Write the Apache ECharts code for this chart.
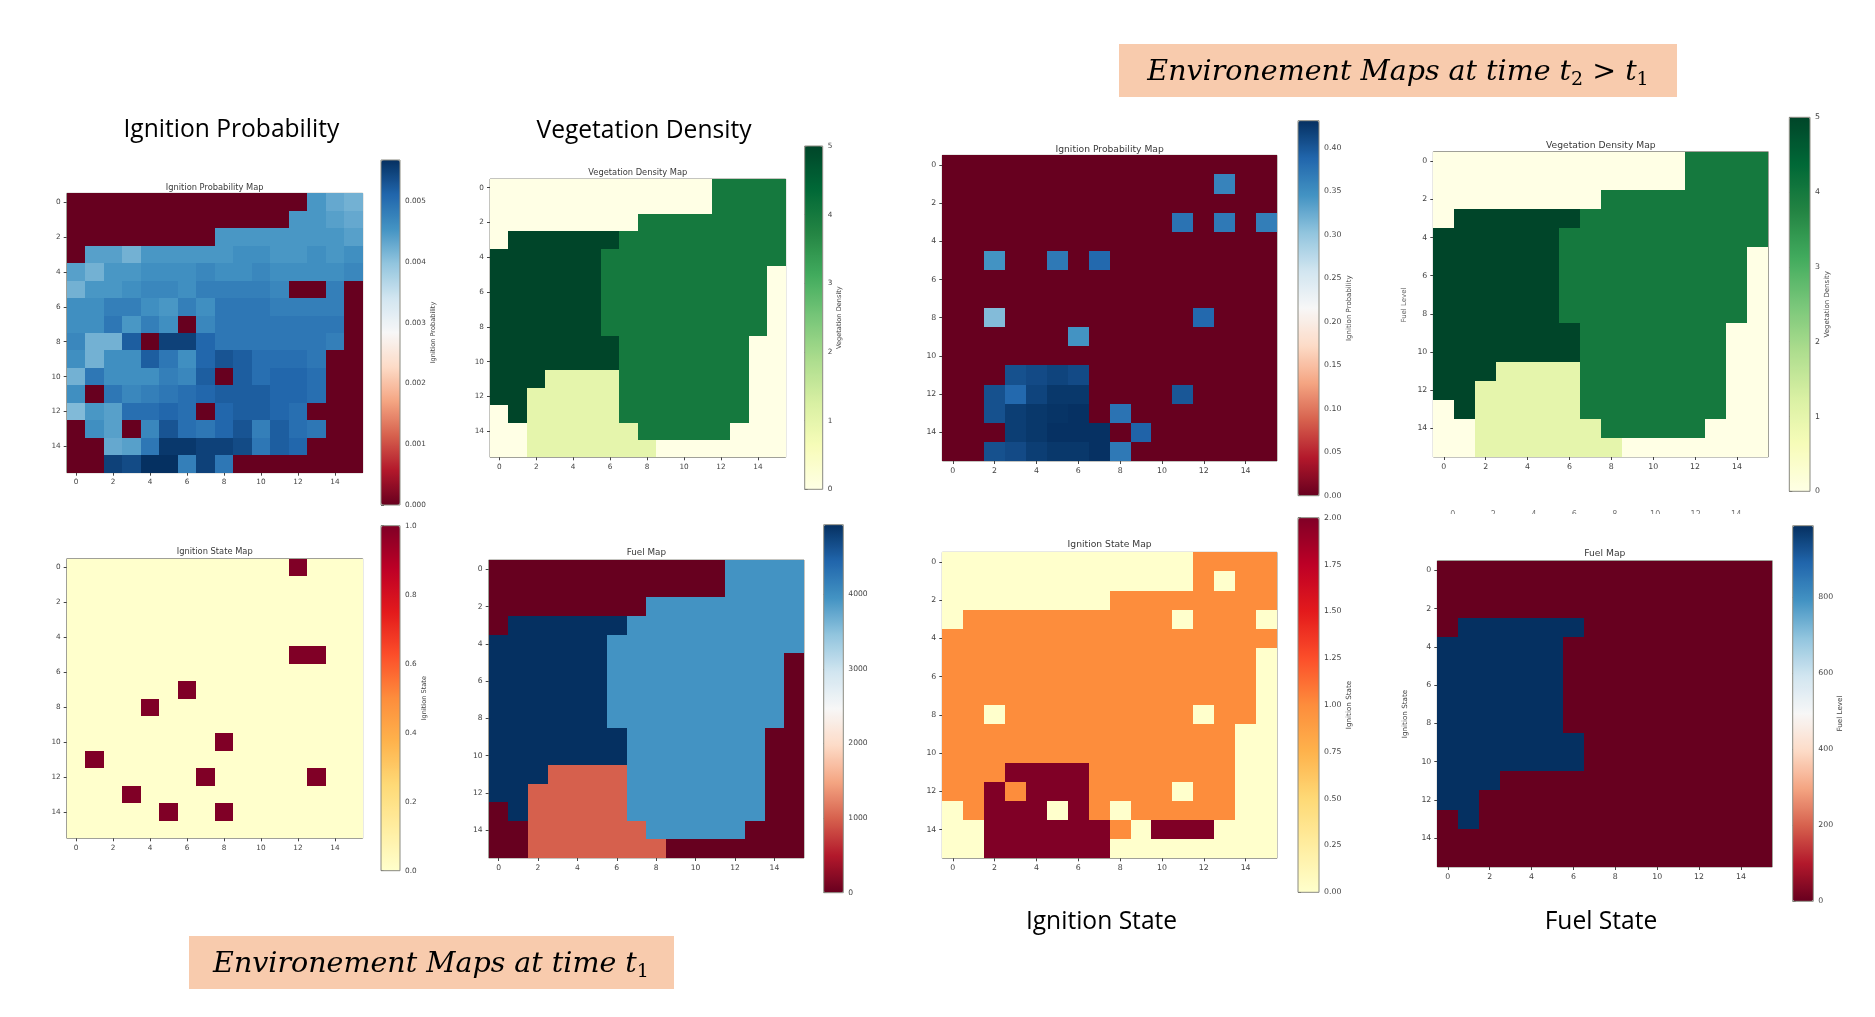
<!DOCTYPE html>
<html>
<head>
<meta charset="utf-8">
<title>Environement Maps</title>
<script src="https://cdn.jsdelivr.net/npm/echarts@6/dist/echarts.min.js"></script>
<style>
html, body { margin:0; padding:0; background:#fff; }
#main { width:1875px; height:1017px; }
</style>
</head>
<body>
<div id="main"></div>
<script>
// grid labels, both axes
var cellLabels = ["0","1","2","3","4","5","6","7","8","9","10","11","12","13","14","15"];

// maps at time t1 (row by row, from the top)
var probT1 = [
	[0,0,0,0,0,0,0,0,0,0,0,0,0,.0045,.0043,.0042],
	[0,0,0,0,0,0,0,0,0,0,0,0,.0045,.0045,.0044,.0043],
	[0,0,0,0,0,0,0,0,.0045,.0045,.0045,.0045,.0045,.0045,.0045,.0044],
	[0,.0044,.0044,.0042,.0045,.0045,.0045,.0045,.0045,.0046,.0046,.0045,.0045,.0046,.0045,.0046],
	[.0044,.0042,.0045,.0045,.0046,.0046,.0046,.0047,.0046,.0046,.0047,.0046,.0046,.0046,.0046,.0047],
	[.0042,.0045,.0045,.0046,.0047,.0047,.0046,.0048,.0048,.0048,.0048,.0047,0,0,.0048,0],
	[.0046,.0046,.0048,.0048,.0046,.0045,.0048,.0046,.0049,.0049,.0049,.0048,.0048,.0048,.0048,0],
	[.0046,.0046,.0049,.0045,.0048,.0046,0,.0047,.0049,.0049,.0049,.0049,.0049,.0049,.0049,0],
	[.0047,.0042,.0042,.0052,0,.0055,.0055,.0051,.0049,.0049,.0049,.0049,.0049,.0049,.0048,0],
	[.0046,.0042,.0046,.0046,.0052,.0049,.0046,.0051,.0053,.0052,.005,.005,.005,.0049,0,0],
	[.0042,.0049,.0046,.0046,.0046,.0048,.0047,.0052,0,.0052,.005,.0051,.0051,.005,0,0],
	[.0046,0,.0049,.0047,.0048,.0049,.005,.0051,.0052,.0052,.0052,.0051,.0051,.005,0,0],
	[.0041,.0045,.0044,.005,.005,.0051,.005,0,.0051,.0052,.0052,.0051,.005,0,0,0],
	[0,.0046,.0044,0,.0047,.0053,.005,.0049,.0051,.0053,.0048,.0052,.005,.0049,0,0],
	[0,0,.0043,.0044,.0049,.0056,.0056,.0055,.0055,.0054,.0049,.0052,.0051,0,0,0],
	[0,0,.0055,.0054,.0057,.0057,.0048,.0055,.0049,0,0,0,0,0,0,0]
];
var vegT1 = [
	[0,0,0,0,0,0,0,0,0,0,0,0,4,4,4,4],
	[0,0,0,0,0,0,0,0,0,0,0,0,4,4,4,4],
	[0,0,0,0,0,0,0,0,4,4,4,4,4,4,4,4],
	[0,5,5,5,5,5,5,4,4,4,4,4,4,4,4,4],
	[5,5,5,5,5,5,4,4,4,4,4,4,4,4,4,4],
	[5,5,5,5,5,5,4,4,4,4,4,4,4,4,4,0],
	[5,5,5,5,5,5,4,4,4,4,4,4,4,4,4,0],
	[5,5,5,5,5,5,4,4,4,4,4,4,4,4,4,0],
	[5,5,5,5,5,5,4,4,4,4,4,4,4,4,4,0],
	[5,5,5,5,5,5,5,4,4,4,4,4,4,4,0,0],
	[5,5,5,5,5,5,5,4,4,4,4,4,4,4,0,0],
	[5,5,5,1,1,1,1,4,4,4,4,4,4,4,0,0],
	[5,5,1,1,1,1,1,4,4,4,4,4,4,4,0,0],
	[0,5,1,1,1,1,1,4,4,4,4,4,4,4,0,0],
	[0,0,1,1,1,1,1,1,4,4,4,4,4,0,0,0],
	[0,0,1,1,1,1,1,1,1,0,0,0,0,0,0,0]
];
var stateT1 = [
	[0,0,0,0,0,0,0,0,0,0,0,0,1,0,0,0],
	[0,0,0,0,0,0,0,0,0,0,0,0,0,0,0,0],
	[0,0,0,0,0,0,0,0,0,0,0,0,0,0,0,0],
	[0,0,0,0,0,0,0,0,0,0,0,0,0,0,0,0],
	[0,0,0,0,0,0,0,0,0,0,0,0,0,0,0,0],
	[0,0,0,0,0,0,0,0,0,0,0,0,1,1,0,0],
	[0,0,0,0,0,0,0,0,0,0,0,0,0,0,0,0],
	[0,0,0,0,0,0,1,0,0,0,0,0,0,0,0,0],
	[0,0,0,0,1,0,0,0,0,0,0,0,0,0,0,0],
	[0,0,0,0,0,0,0,0,0,0,0,0,0,0,0,0],
	[0,0,0,0,0,0,0,0,1,0,0,0,0,0,0,0],
	[0,1,0,0,0,0,0,0,0,0,0,0,0,0,0,0],
	[0,0,0,0,0,0,0,1,0,0,0,0,0,1,0,0],
	[0,0,0,1,0,0,0,0,0,0,0,0,0,0,0,0],
	[0,0,0,0,0,1,0,0,1,0,0,0,0,0,0,0],
	[0,0,0,0,0,0,0,0,0,0,0,0,0,0,0,0]
];
var fuelT1 = [
	[0,0,0,0,0,0,0,0,0,0,0,0,3944,3944,3944,3944],
	[0,0,0,0,0,0,0,0,0,0,0,0,3944,3944,3944,3944],
	[0,0,0,0,0,0,0,0,3944,3944,3944,3944,3944,3944,3944,3944],
	[0,4930,4930,4930,4930,4930,4930,3944,3944,3944,3944,3944,3944,3944,3944,3944],
	[4930,4930,4930,4930,4930,4930,3944,3944,3944,3944,3944,3944,3944,3944,3944,3944],
	[4930,4930,4930,4930,4930,4930,3944,3944,3944,3944,3944,3944,3944,3944,3944,0],
	[4930,4930,4930,4930,4930,4930,3944,3944,3944,3944,3944,3944,3944,3944,3944,0],
	[4930,4930,4930,4930,4930,4930,3944,3944,3944,3944,3944,3944,3944,3944,3944,0],
	[4930,4930,4930,4930,4930,4930,3944,3944,3944,3944,3944,3944,3944,3944,3944,0],
	[4930,4930,4930,4930,4930,4930,4930,3944,3944,3944,3944,3944,3944,3944,0,0],
	[4930,4930,4930,4930,4930,4930,4930,3944,3944,3944,3944,3944,3944,3944,0,0],
	[4930,4930,4930,986,986,986,986,3944,3944,3944,3944,3944,3944,3944,0,0],
	[4930,4930,986,986,986,986,986,3944,3944,3944,3944,3944,3944,3944,0,0],
	[0,4930,986,986,986,986,986,3944,3944,3944,3944,3944,3944,3944,0,0],
	[0,0,986,986,986,986,986,986,3944,3944,3944,3944,3944,0,0,0],
	[0,0,986,986,986,986,986,986,986,0,0,0,0,0,0,0]
];

// maps at time t2
var probT2 = [
	[0,0,0,0,0,0,0,0,0,0,0,0,0,0,0,0],
	[0,0,0,0,0,0,0,0,0,0,0,0,0,.36,0,0],
	[0,0,0,0,0,0,0,0,0,0,0,0,0,0,0,0],
	[0,0,0,0,0,0,0,0,0,0,0,.375,0,.37,0,.365],
	[0,0,0,0,0,0,0,0,0,0,0,0,0,0,0,0],
	[0,0,.345,0,0,.37,0,.385,0,0,0,0,0,0,0,0],
	[0,0,0,0,0,0,0,0,0,0,0,0,0,0,0,0],
	[0,0,0,0,0,0,0,0,0,0,0,0,0,0,0,0],
	[0,0,.31,0,0,0,0,0,0,0,0,0,.385,0,0,0],
	[0,0,0,0,0,0,.345,0,0,0,0,0,0,0,0,0],
	[0,0,0,0,0,0,0,0,0,0,0,0,0,0,0,0],
	[0,0,0,.405,.41,.415,.41,0,0,0,0,0,0,0,0,0],
	[0,0,.405,.385,.415,.425,.425,0,0,0,0,.4,0,0,0,0],
	[0,0,.405,.42,.425,.428,.43,0,.375,0,0,0,0,0,0,0],
	[0,0,0,.42,.425,.43,.43,.43,0,.39,0,0,0,0,0,0],
	[0,0,.405,.41,.42,.425,.425,.43,.37,0,0,0,0,0,0,0]
];
var vegT2 = [
	[0,0,0,0,0,0,0,0,0,0,0,0,4,4,4,4],
	[0,0,0,0,0,0,0,0,0,0,0,0,4,4,4,4],
	[0,0,0,0,0,0,0,0,4,4,4,4,4,4,4,4],
	[0,5,5,5,5,5,5,4,4,4,4,4,4,4,4,4],
	[5,5,5,5,5,5,4,4,4,4,4,4,4,4,4,4],
	[5,5,5,5,5,5,4,4,4,4,4,4,4,4,4,0],
	[5,5,5,5,5,5,4,4,4,4,4,4,4,4,4,0],
	[5,5,5,5,5,5,4,4,4,4,4,4,4,4,4,0],
	[5,5,5,5,5,5,4,4,4,4,4,4,4,4,4,0],
	[5,5,5,5,5,5,5,4,4,4,4,4,4,4,0,0],
	[5,5,5,5,5,5,5,4,4,4,4,4,4,4,0,0],
	[5,5,5,1,1,1,1,4,4,4,4,4,4,4,0,0],
	[5,5,1,1,1,1,1,4,4,4,4,4,4,4,0,0],
	[0,5,1,1,1,1,1,4,4,4,4,4,4,4,0,0],
	[0,0,1,1,1,1,1,1,4,4,4,4,4,0,0,0],
	[0,0,1,1,1,1,1,1,1,0,0,0,0,0,0,0]
];
var stateT2 = [
	[0,0,0,0,0,0,0,0,0,0,0,0,1,1,1,1],
	[0,0,0,0,0,0,0,0,0,0,0,0,1,0,1,1],
	[0,0,0,0,0,0,0,0,1,1,1,1,1,1,1,1],
	[0,1,1,1,1,1,1,1,1,1,1,0,1,1,1,0],
	[1,1,1,1,1,1,1,1,1,1,1,1,1,1,1,1],
	[1,1,1,1,1,1,1,1,1,1,1,1,1,1,1,0],
	[1,1,1,1,1,1,1,1,1,1,1,1,1,1,1,0],
	[1,1,1,1,1,1,1,1,1,1,1,1,1,1,1,0],
	[1,1,0,1,1,1,1,1,1,1,1,1,0,1,1,0],
	[1,1,1,1,1,1,1,1,1,1,1,1,1,1,0,0],
	[1,1,1,1,1,1,1,1,1,1,1,1,1,1,0,0],
	[1,1,1,2,2,2,2,1,1,1,1,1,1,1,0,0],
	[1,1,2,1,2,2,2,1,1,1,1,0,1,1,0,0],
	[0,1,2,2,2,0,2,1,0,1,1,1,1,1,0,0],
	[0,0,2,2,2,2,2,2,1,0,2,2,2,0,0,0],
	[0,0,2,2,2,2,2,2,0,0,0,0,0,0,0,0]
];
var fuelT2 = [
	[0,0,0,0,0,0,0,0,0,0,0,0,0,0,0,0],
	[0,0,0,0,0,0,0,0,0,0,0,0,0,0,0,0],
	[0,0,0,0,0,0,0,0,0,0,0,0,0,0,0,0],
	[0,988,988,988,988,988,988,0,0,0,0,0,0,0,0,0],
	[988,988,988,988,988,988,0,0,0,0,0,0,0,0,0,0],
	[988,988,988,988,988,988,0,0,0,0,0,0,0,0,0,0],
	[988,988,988,988,988,988,0,0,0,0,0,0,0,0,0,0],
	[988,988,988,988,988,988,0,0,0,0,0,0,0,0,0,0],
	[988,988,988,988,988,988,0,0,0,0,0,0,0,0,0,0],
	[988,988,988,988,988,988,988,0,0,0,0,0,0,0,0,0],
	[988,988,988,988,988,988,988,0,0,0,0,0,0,0,0,0],
	[988,988,988,0,0,0,0,0,0,0,0,0,0,0,0,0],
	[988,988,0,0,0,0,0,0,0,0,0,0,0,0,0,0],
	[0,988,0,0,0,0,0,0,0,0,0,0,0,0,0,0],
	[0,0,0,0,0,0,0,0,0,0,0,0,0,0,0,0],
	[0,0,0,0,0,0,0,0,0,0,0,0,0,0,0,0]
];

// colour bar ticks
var probT1Ticks = [0,.001,.002,.003,.004,.005];
var vegTicks = [0,1,2,3,4,5];
var stateT1Ticks = [0,.2,.4,.6,.8,1];
var fuelT1Ticks = [0,1000,2000,3000,4000];
var probT2Ticks = [0,.05,.1,.15,.2,.25,.3,.35,.4];
var stateT2Ticks = [0,.25,.5,.75,1,1.25,1.5,1.75,2];
var fuelT2Ticks = [0,200,400,600,800];

// leftover axis labels cut off in the slide, between the two t2 rows
var strayTicks = ["0","2","4","6","8","10","12","14"];

// colour maps
var RdBu = ["#67001f","#b2182b","#d6604d","#f4a582","#fddbc7","#f7f7f7","#d1e5f0","#92c5de","#4393c3","#2166ac","#053061"];
var YlGn = ["#ffffe5","#f7fcb9","#d9f0a3","#addd8e","#78c679","#41ab5d","#238443","#006837","#004529"];
var YlOrRd = ["#ffffcc","#ffeda0","#fed976","#feb24c","#fd8d3c","#fc4e2a","#e31a1c","#bd0026","#800026"];

// box = plot area [x0,y0,x1,y1], bar = colour bar [x0,y0,x1,y1]
var panels = [
	{title:"Ignition Probability Map", titleY:188.4, titleSize:8.3, tickSize:7.3, data:probT1, colors:RdBu, max:.00568, ticks:probT1Ticks, digits:3, label:"Ignition Probability", labelSize:6.6, gap:17, box:[66.7,193.3,362.7,472.7], bar:[381,160,400,505]},
	{title:"Vegetation Density Map", titleY:174, titleSize:8.3, tickSize:7.3, data:vegT1, colors:YlGn, max:5, ticks:vegTicks, digits:0, label:"Vegetation Density", labelSize:6.6, gap:10, box:[490,179,785.7,457.3], bar:[804.7,146,822.7,489.3]},
	{title:"Ignition State Map", titleY:553, titleSize:8.3, tickSize:7.3, data:stateT1, colors:YlOrRd, max:1, ticks:stateT1Ticks, digits:1, label:"Ignition State", labelSize:6.6, gap:12, box:[66.7,558.7,362.7,838.3], bar:[381,525.7,400,870.7]},
	{title:"Fuel Map", titleY:553, titleSize:8.8, tickSize:7.6, data:fuelT1, colors:RdBu, max:4930, ticks:fuelT1Ticks, digits:0, label:"", labelSize:7, gap:0, box:[488.7,560,804,858], bar:[823.7,524.7,843.3,892.7]},
	{title:"Ignition Probability Map", titleY:150.4, titleSize:9.2, tickSize:7.8, data:probT2, colors:RdBu, max:.431, ticks:probT2Ticks, digits:2, label:"Ignition Probability", labelSize:7, gap:23, box:[942.3,155.3,1277,461], bar:[1298,120.7,1319,495.7]},
	{title:"Vegetation Density Map", titleY:146.4, titleSize:9.2, tickSize:7.8, data:vegT2, colors:YlGn, max:5, ticks:vegTicks, digits:0, label:"Vegetation Density", labelSize:7, gap:12, box:[1433.3,151.7,1768.3,457], bar:[1789.3,117.3,1810,491.3]},
	{title:"Ignition State Map", titleY:546, titleSize:9.2, tickSize:7.8, data:stateT2, colors:YlOrRd, max:2, ticks:stateT2Ticks, digits:2, label:"Ignition State", labelSize:7.2, gap:21, box:[942.3,552.3,1277,858.3], bar:[1298,517.7,1319,892.3]},
	{title:"Fuel Map", titleY:554.2, titleSize:9.2, tickSize:7.8, data:fuelT2, colors:RdBu, max:988, ticks:fuelT2Ticks, digits:0, label:"Fuel Level", labelSize:7.2, gap:22, box:[1437.3,560.7,1772.3,867], bar:[1792.7,525.7,1813.3,901.3]}
];

// big slide captions
var captions = [
	{text:"Ignition Probability", x:231.4, y:131},
	{text:"Vegetation Density", x:644, y:132},
	{text:"Ignition State", x:1101.5, y:923},
	{text:"Fuel State", x:1601, y:923}
];

var smallFont = "DejaVu Sans";
var textGrey = "#444";

var toCells = function(matrix){
	var cells = [];
	for(var r = 0; r < matrix.length; r++){
		for(var c = 0; c < matrix[r].length; c++){
			cells.push([c, r, matrix[r][c]]);
		}
	}
	return cells;
};

// one imshow cell, edges snapped so neighbours leave no seam
var renderCell = function(params, api){
	var mid = api.coord([api.value(0), api.value(1)]);
	var size = api.size([1, 1]);
	var x0 = Math.round(mid[0] - size[0] / 2),
		x1 = Math.round(mid[0] + size[0] / 2),
		y0 = Math.round(mid[1] - size[1] / 2),
		y1 = Math.round(mid[1] + size[1] / 2);
	return {
		type:"rect",
		shape:{x:x0, y:y0, width:x1 - x0, height:y1 - y0},
		style:{fill:api.visual("color")}
	};
};

var grids = [], xAxes = [], yAxes = [], series = [], visualMaps = [], titles = [];

// plots first, so that grid index == panel index
panels.forEach(function(p, i){
	grids.push({
		left:p.box[0], top:p.box[1], width:p.box[2]-p.box[0], height:p.box[3]-p.box[1],
		show:true, borderColor:"#8a8a80", borderWidth:1, backgroundColor:"transparent"
	});
	xAxes.push({
		type:"category", gridIndex:i, data:cellLabels, position:"bottom",
		axisLine:{show:false}, splitLine:{show:false}, splitArea:{show:false},
		axisTick:{show:true, alignWithLabel:true, interval:1, length:3, lineStyle:{color:textGrey, width:1}},
		axisLabel:{interval:1, margin:6, fontSize:p.tickSize, fontFamily:smallFont, color:textGrey}
	});
	yAxes.push({
		type:"category", gridIndex:i, data:cellLabels, inverse:true,
		axisLine:{show:false}, splitLine:{show:false}, splitArea:{show:false},
		axisTick:{show:true, alignWithLabel:true, interval:1, length:3, lineStyle:{color:textGrey, width:1}},
		axisLabel:{interval:1, margin:6, fontSize:p.tickSize, fontFamily:smallFont, color:textGrey}
	});
	series.push({
		type:"custom", xAxisIndex:i, yAxisIndex:i, data:toCells(p.data),
		encode:{x:0, y:1}, renderItem:renderCell, progressive:0, animation:false, silent:true
	});
	visualMaps.push({
		type:"continuous", seriesIndex:i, dimension:2, min:0, max:p.max, calculable:false, realtime:false,
		left:p.bar[0], top:p.bar[1], itemWidth:p.bar[2]-p.bar[0], itemHeight:p.bar[3]-p.bar[1],
		padding:0, text:null, hoverLink:false, inRange:{color:p.colors}
	});
	titles.push({
		text:p.title, left:(p.box[0]+p.box[2])/2, top:p.titleY-p.titleSize*0.6, padding:0, textAlign:"center",
		textStyle:{fontFamily:smallFont, fontSize:p.titleSize, fontWeight:"normal", color:"#3a3a3a"}
	});
});

// colour bar axes on their own empty grids
panels.forEach(function(p, i){
	var k = panels.length + i;
	grids.push({
		left:p.bar[0], top:p.bar[1], width:p.bar[2]-p.bar[0], height:p.bar[3]-p.bar[1],
		show:true, borderColor:"#8a8a80", borderWidth:1, backgroundColor:"transparent", z:5
	});
	xAxes.push({type:"value", gridIndex:k, show:false, min:0, max:1});
	yAxes.push({
		type:"value", gridIndex:k, position:"right", min:0, max:p.max,
		name:p.label, nameLocation:"middle", nameRotate:90, nameGap:p.gap,
		nameTextStyle:{fontFamily:smallFont, fontSize:p.labelSize, color:textGrey},
		axisLine:{show:false}, splitLine:{show:false},
		axisTick:{show:true, length:3, customValues:p.ticks, lineStyle:{color:textGrey, width:1}},
		axisLabel:{
			customValues:p.ticks, margin:5, fontSize:p.tickSize, fontFamily:smallFont, color:textGrey,
			formatter:function(v){ return v.toFixed(p.digits); }
		}
	});
});

captions.forEach(function(c){
	titles.push({
		text:c.text, left:c.x, top:c.y-14, padding:0, textAlign:"center",
		textStyle:{fontFamily:"Open Sans", fontSize:24.6, fontWeight:"normal", color:"#000"}
	});
});

var bannerRich = {
	m:{fontFamily:"DejaVu Serif", fontStyle:"italic", fontSize:28.5, color:"#111"},
	u:{fontFamily:"DejaVu Serif", fontSize:28.5, color:"#111"},
	s:{fontFamily:"DejaVu Serif", fontSize:19, color:"#111", padding:[15,0,0,0]}
};

var graphics = [
	{type:"rect", shape:{x:1119, y:44, width:558, height:53}, style:{fill:"#f8cbad"}, z:1},
	{type:"text", x:1398, y:73, z:2, style:{
		text:"{m|Environement Maps at time t}{s|2}{u| > }{m|t}{s|1}", rich:bannerRich, align:"center", verticalAlign:"middle"
	}},
	{type:"rect", shape:{x:189, y:936, width:485, height:53}, style:{fill:"#f8cbad"}, z:1},
	{type:"text", x:431, y:965, z:2, style:{
		text:"{m|Environement Maps at time t}{s|1}", rich:bannerRich, align:"center", verticalAlign:"middle"
	}},
	// stray axis names left of the t2 maps
	{type:"text", x:1404, y:305, rotation:Math.PI/2, z:2, style:{
		text:"Fuel Level", font:"7px 'DejaVu Sans'", fill:"#666", align:"center", verticalAlign:"middle"
	}},
	{type:"text", x:1405, y:714, rotation:Math.PI/2, z:2, style:{
		text:"Ignition State", font:"7.2px 'DejaVu Sans'", fill:textGrey, align:"center", verticalAlign:"middle"
	}}
];
strayTicks.forEach(function(t, i){
	graphics.push({type:"text", x:1452.7 + i * 40.5, y:514.5, z:2, style:{
		text:t, font:"8px 'DejaVu Sans'", fill:"#777", align:"center", verticalAlign:"middle"
	}});
});
// slide crop that hides the lower half of those labels
graphics.push({type:"rect", shape:{x:1440, y:514, width:310, height:8}, style:{fill:"#fff"}, z:3});

var chart = echarts.init(document.getElementById("main"));
chart.setOption({
	backgroundColor:"#fff",
	animation:false,
	tooltip:{show:false},
	title:titles,
	grid:grids,
	xAxis:xAxes,
	yAxis:yAxes,
	visualMap:visualMaps,
	series:series,
	graphic:graphics
});
</script>
</body>
</html>
